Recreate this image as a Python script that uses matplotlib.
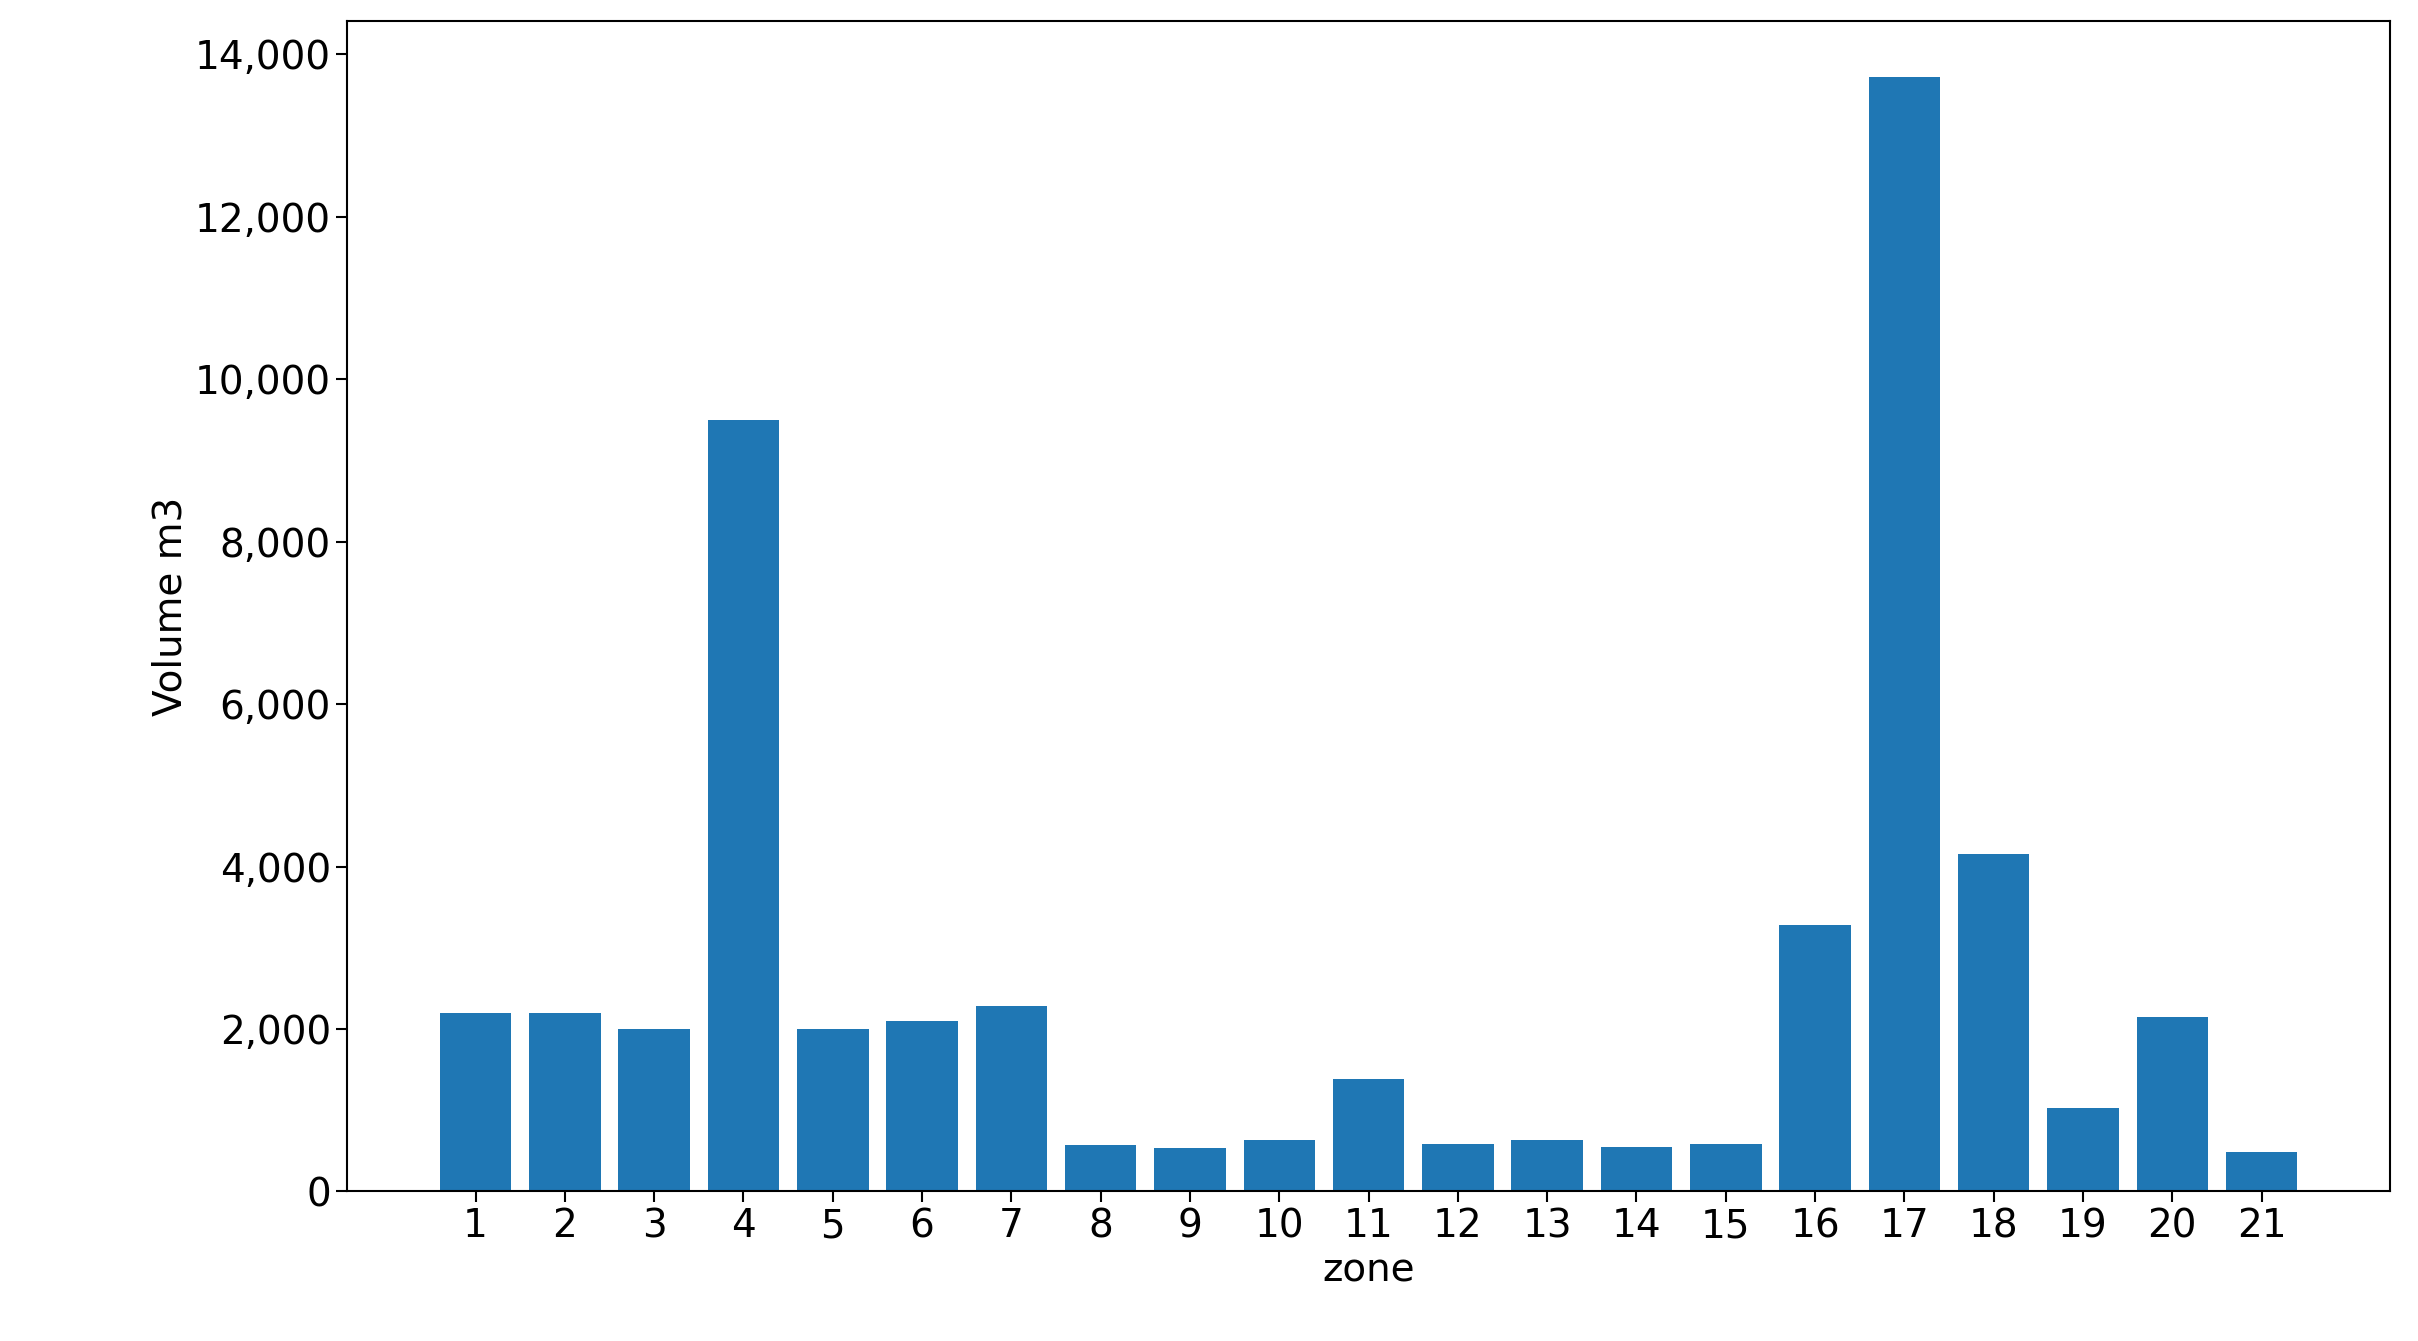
import matplotlib
matplotlib.use('Agg')
import matplotlib.pyplot as plt
from matplotlib.ticker import FuncFormatter

zones = list(range(1, 22))
volume = [2200, 2200, 2000, 9500, 2000, 2100, 2280, 570, 530, 630, 1385,
          590, 630, 550, 590, 3280, 13720, 4155, 1025, 2145, 490]

fig = plt.figure(figsize=(24.18, 13.41), dpi=100)
ax = fig.add_axes([0.1435, 0.1115, 0.845, 0.8725])
ax.bar(zones, volume, color='#1f77b4')
ax.set_xticks(zones)
ax.yaxis.set_major_formatter(FuncFormatter(lambda v, p: f'{int(v):,}'))
ax.tick_params(labelsize=28, length=8, width=1.5)
ax.set_xlabel('zone', fontsize=28)
ax.set_ylabel('Volume m3', fontsize=28)
for s in ax.spines.values():
    s.set_linewidth(1.5)
fig.savefig('out.png', dpi=100)
